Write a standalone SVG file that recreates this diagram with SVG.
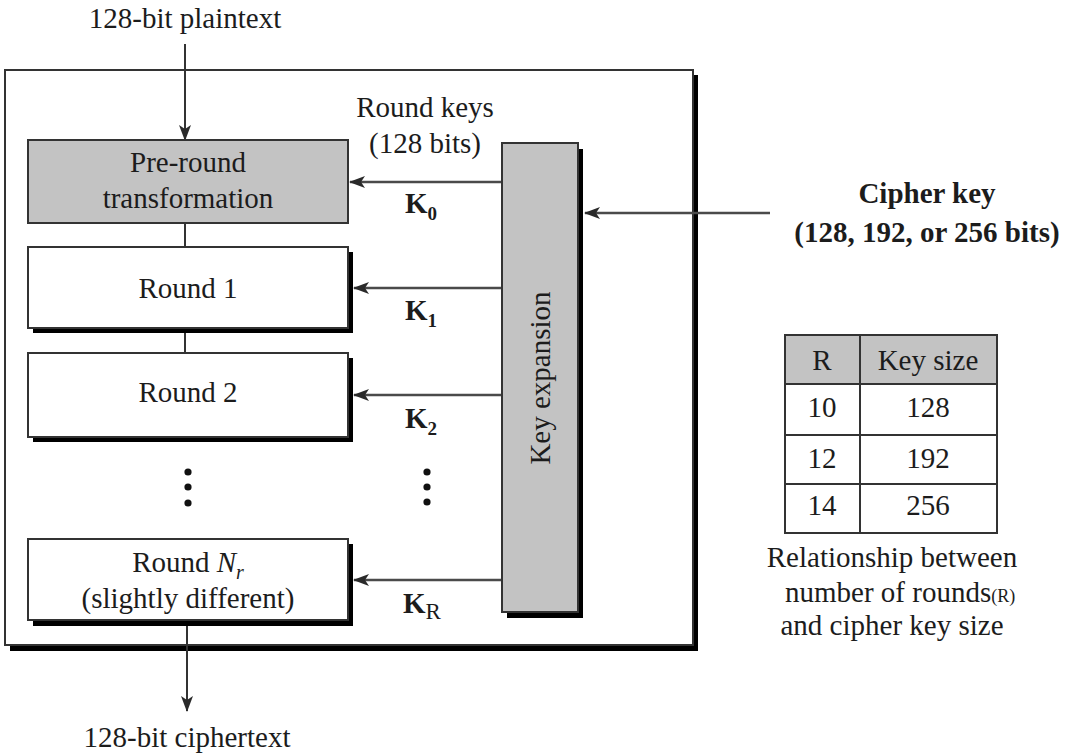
<svg xmlns="http://www.w3.org/2000/svg" width="1065" height="756" viewBox="0 0 1065 756">
<defs>
<style>
text{font-family:"Liberation Serif","Times New Roman",serif;font-size:29px;fill:#1c1c1c}
.c{text-anchor:middle}
.b{font-weight:bold}
.box{stroke:#333;stroke-width:2}
.gray{fill:#c3c3c3}
.white{fill:#fff}
.sh{fill:#000}
.line{stroke:#333;stroke-width:2;fill:none}
.kline{stroke:#4a4a4a;stroke-width:2.5;fill:none}
</style>
<marker id="ah" viewBox="0 0 16 12" refX="15" refY="6" markerWidth="16" markerHeight="12" markerUnits="userSpaceOnUse" orient="auto">
<path d="M0,0 L16,6 L0,12 L4,6 z" fill="#2a2a2a"/>
</marker>
</defs>
<rect width="1065" height="756" fill="#fff"/>

<g id="outer">
<rect x="10" y="75" width="688" height="576" class="sh"/>
<rect x="5" y="70" width="688" height="575" fill="#fff" class="box"/>
</g>

<g id="connectors">
<line x1="185" y1="44" x2="185" y2="140" class="line" marker-end="url(#ah)"/>
<line x1="185" y1="223" x2="185" y2="247" class="line"/>
<line x1="185" y1="333" x2="185" y2="353" class="line"/>
<line x1="187" y1="626" x2="187" y2="711" class="line" marker-end="url(#ah)"/>
<line x1="502" y1="182" x2="350" y2="182" class="kline" marker-end="url(#ah)"/>
<line x1="502" y1="288" x2="354" y2="288" class="kline" marker-end="url(#ah)"/>
<line x1="502" y1="395" x2="354" y2="395" class="kline" marker-end="url(#ah)"/>
<line x1="502" y1="580" x2="354" y2="580" class="kline" marker-end="url(#ah)"/>
<line x1="770" y1="213" x2="585" y2="213" class="kline" marker-end="url(#ah)"/>
</g>

<g id="plaintext">
<text x="185" y="28" class="c">128-bit plaintext</text>
</g>

<g id="preround">
<rect x="28" y="140" width="320" height="83" class="box gray"/>
<text x="188" y="172" class="c">Pre-round</text>
<text x="188" y="208" class="c">transformation</text>
</g>

<g id="round1">
<rect x="33" y="252" width="320" height="81" class="sh"/>
<rect x="28" y="247" width="320" height="81" class="box white"/>
<text x="188" y="298" class="c">Round 1</text>
</g>

<g id="round2">
<rect x="33" y="358" width="320" height="84" class="sh"/>
<rect x="28" y="353" width="320" height="84" class="box white"/>
<text x="188" y="402" class="c">Round 2</text>
</g>

<g id="dots-left" fill="#111">
<circle cx="188" cy="472" r="3.6"/>
<circle cx="188" cy="487" r="3.6"/>
<circle cx="188" cy="503" r="3.6"/>
</g>

<g id="roundNr">
<rect x="33" y="544" width="320" height="82" class="sh"/>
<rect x="28" y="539" width="320" height="81" class="box white"/>
<text x="188" y="572" class="c">Round <tspan font-style="italic">N</tspan><tspan font-style="italic" font-size="20" dy="7">r</tspan></text>
<text x="188" y="608" class="c">(slightly different)</text>
</g>

<g id="ciphertext">
<text x="187" y="747" class="c">128-bit ciphertext</text>
</g>

<g id="keyexpansion">
<rect x="507" y="149" width="76" height="469" class="sh"/>
<rect x="502" y="143" width="76" height="469" class="box gray"/>
<text x="0" y="0" class="c" font-size="31" transform="translate(550,378) rotate(-90)">Key expansion</text>
</g>

<g id="roundkeys">
<text x="425" y="117" class="c">Round keys</text>
<text x="425" y="153" class="c">(128 bits)</text>
</g>

<g id="klabels">
<text x="405" y="213" class="b">K<tspan font-size="19" dy="7">0</tspan></text>
<text x="405" y="320" class="b">K<tspan font-size="19" dy="7">1</tspan></text>
<text x="405" y="428" class="b">K<tspan font-size="19" dy="7">2</tspan></text>
<text x="403" y="613" class="b">K<tspan font-weight="normal" font-size="23" dy="6">R</tspan></text>
</g>

<g id="dots-right" fill="#111">
<circle cx="427" cy="472" r="3.6"/>
<circle cx="427" cy="487" r="3.6"/>
<circle cx="427" cy="502" r="3.6"/>
</g>

<g id="cipherkey">
<text x="927" y="203" class="c b" font-size="28">Cipher key</text>
<text x="927" y="242" class="c b" font-size="28">(128, 192, or 256 bits)</text>
</g>

<g id="table">
<rect x="785" y="335" width="212" height="49" class="gray"/>
<rect x="785" y="335" width="212" height="198" fill="none" stroke="#333" stroke-width="2"/>
<line x1="860" y1="335" x2="860" y2="533" stroke="#333" stroke-width="2"/>
<line x1="785" y1="384" x2="997" y2="384" stroke="#333" stroke-width="2"/>
<line x1="785" y1="435" x2="997" y2="435" stroke="#333" stroke-width="2"/>
<line x1="785" y1="484" x2="997" y2="484" stroke="#333" stroke-width="2"/>
<text x="822" y="370" class="c">R</text>
<text x="928" y="370" class="c">Key size</text>
<text x="822" y="417" class="c">10</text>
<text x="928" y="417" class="c">128</text>
<text x="822" y="468" class="c">12</text>
<text x="928" y="468" class="c">192</text>
<text x="822" y="515" class="c">14</text>
<text x="928" y="515" class="c">256</text>
</g>

<g id="caption">
<text x="892" y="567" class="c">Relationship between</text>
<text x="785" y="602">number of rounds<tspan font-size="18">(R)</tspan></text>
<text x="892" y="635" class="c">and cipher key size</text>
</g>
</svg>
